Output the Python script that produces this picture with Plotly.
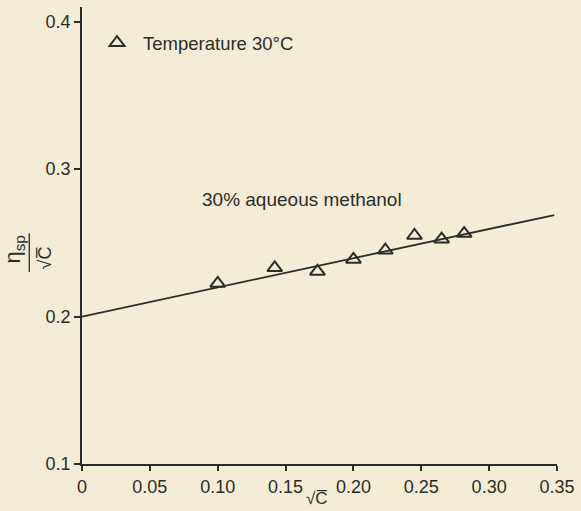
import plotly.graph_objects as go

# Data
sqrt_c = [0.100, 0.142, 0.1735, 0.200, 0.2235, 0.245, 0.265, 0.2816]
eta_sp_over_sqrt_c = [0.2225, 0.2331, 0.2306, 0.2388, 0.2450, 0.2550, 0.2525, 0.2563]

fit_x = [0.0, 0.348]
fit_y = [0.200, 0.2689]

x_tickvals = [0, 0.05, 0.10, 0.15, 0.20, 0.25, 0.30, 0.35]
x_ticktext = ["0", "0.05", "0.10", "0.15", "0.20", "0.25", "0.30", "0.35"]
y_tickvals = [0.1, 0.2, 0.3, 0.4]
y_ticktext = ["0.1", "0.2", "0.3", "0.4"]

ink = "#2a2e29"
paper = "#f4ecd5"
font = "Liberation Sans, Arial, sans-serif"

fig = go.Figure()
fig.add_trace(go.Scatter(
    x=fit_x, y=fit_y, mode="lines",
    line=dict(color=ink, width=1.8), showlegend=False, hoverinfo="skip"))
fig.add_trace(go.Scatter(
    x=sqrt_c, y=eta_sp_over_sqrt_c, mode="markers",
    name="Temperature 30°C",
    marker=dict(symbol="triangle-up-open", size=13, color=ink,
                line=dict(color=ink, width=2))))

fig.update_layout(
    width=581, height=511,
    margin=dict(l=82, r=24, t=7, b=47),
    paper_bgcolor=paper, plot_bgcolor=paper,
    font=dict(family=font, size=18, color=ink),
    showlegend=True,
    legend=dict(x=0.019, y=0.921, xanchor="left", yanchor="middle",
                bgcolor="rgba(0,0,0,0)", font=dict(size=18.5, color=ink),
                itemwidth=42),
    xaxis=dict(range=[0, 0.35], tickvals=x_tickvals, ticktext=x_ticktext,
               showgrid=False, zeroline=False, showline=True,
               linecolor=ink, linewidth=1.8, ticks="outside", ticklen=5,
               tickwidth=1.5, tickcolor=ink, tickfont=dict(size=18)),
    yaxis=dict(range=[0.1, 0.41], tickvals=y_tickvals, ticktext=y_ticktext,
               showgrid=False, zeroline=False, showline=True,
               linecolor=ink, linewidth=1.8, ticks="outside", ticklen=6,
               tickwidth=1.5, tickcolor=ink, tickfont=dict(size=18)),
)

# in-plot label
fig.add_annotation(text="30% aqueous methanol", xref="paper", yref="paper",
                   x=0.464, y=0.578, showarrow=False,
                   font=dict(size=19, color=ink))

# x-axis title: √C with vinculum
fig.add_annotation(text="√C\u0305", xref="paper", yref="paper",
                   x=0.494, y=-0.1005, yanchor="bottom", showarrow=False,
                   font=dict(size=17, color=ink))

# y-axis title as a rotated fraction  η_sp / √C
fig.add_annotation(text="η<sub>sp</sub>", xref="paper", yref="paper",
                   x=-0.176, y=0.47, textangle=-90, showarrow=False,
                   font=dict(size=22, color=ink))
fig.add_annotation(text="√C\u0305", xref="paper", yref="paper",
                   x=-0.103, y=0.45, textangle=-90, showarrow=False,
                   font=dict(size=18, color=ink))
fig.add_shape(type="line", xref="paper", yref="paper",
              x0=-0.111, x1=-0.111, y0=0.42, y1=0.505,
              line=dict(color=ink, width=1.3))

fig.write_html("out.html", config={"displayModeBar": False},
               post_script="document.body.style.margin='0';document.body.style.background='%s';" % paper)
